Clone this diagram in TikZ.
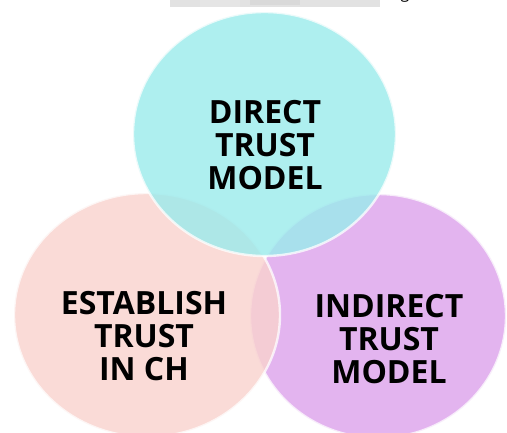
\documentclass[tikz,border=0pt]{standalone}
\usepackage{fontspec}
\setmainfont{Open Sans}
\definecolor{cyanfill}{RGB}{154,235,236}
\definecolor{pinkfill}{RGB}{249,210,206}
\definecolor{purplefill}{RGB}{220,162,236}
\definecolor{bandgray}{RGB}{226,226,226}
\tikzset{
  venn/.style={fill opacity=0.8, draw=white, draw opacity=0.75, line width=2.4pt},
  label/.style={font=\bfseries\fontsize{32}{33}\selectfont, align=center,
    inner sep=0pt, anchor=north, text=black}
}
\begin{document}
\begin{tikzpicture}[x=1pt,y=-1pt]
  \useasboundingbox (0,0) rectangle (507,432);
  \fill[white] (0,0) rectangle (507,432);
  % remnant strip at the top edge
  \fill[bandgray] (170,0) rectangle (380,6.5);
  \fill[white!80!gray] (200,0) rectangle (240,6.5);
  \fill[white!70!gray] (250,0) rectangle (300,5);
  \begin{scope}
    \clip (395,0) rectangle (420,4);
    \node[font=\fontsize{16}{16}\selectfont, anchor=base, inner sep=0pt] (g) at (405,-2) {g};
  \end{scope}
  % three overlapping sets
  \path[venn, fill=purplefill] (378,316) ellipse [x radius=128, y radius=122];
  \path[venn, fill=pinkfill] (147,315) ellipse [x radius=133, y radius=122];
  \path[venn, fill=cyanfill] (264.5,134) ellipse [x radius=131.5, y radius=122];
  % set labels
  \node[label] (direct) at (265,100) {DIRECT\\TRUST\\MODEL};
  \node[label] (establish) at (144,291) {ESTABLISH\\TRUST\\IN CH};
  \node[label] (indirect) at (389,294) {INDIRECT\\TRUST\\MODEL};
\end{tikzpicture}
\end{document}
